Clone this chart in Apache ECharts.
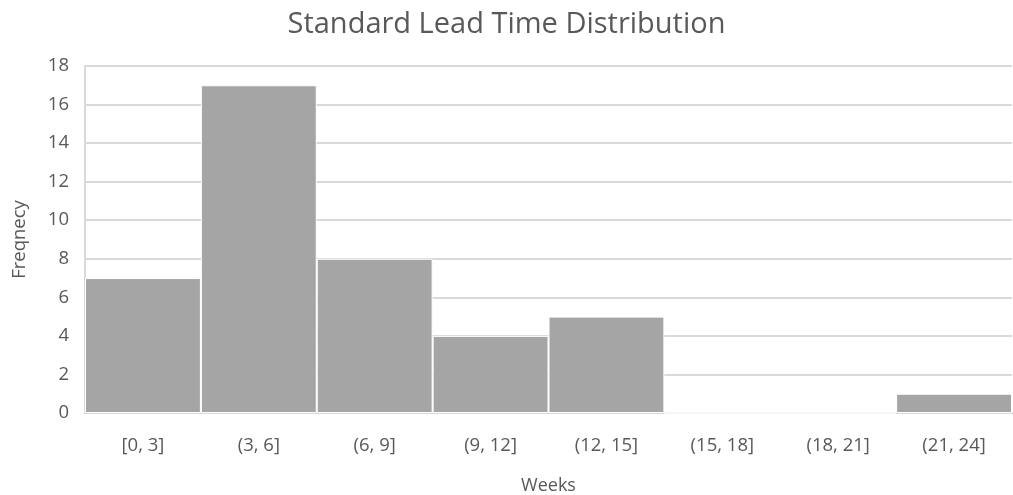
<!DOCTYPE html>
<html><head><meta charset="utf-8">
<script src="https://cdn.jsdelivr.net/npm/echarts@6/dist/echarts.min.js"></script>
<style>html,body{margin:0;padding:0;background:#fff}#c{width:1013px;height:495px}</style>
</head><body><div id="c"></div>
<script>
const categories = ['[0, 3]', '(3, 6]', '(6, 9]', '(9, 12]', '(12, 15]', '(15, 18]', '(18, 21]', '(21, 24]'];
const frequencies = [7, 17, 8, 4, 5, 0, 0, 1];
const chart = echarts.init(document.getElementById('c'));
const font = 'Open Sans';
chart.setOption({
  animation: false,
  title: { text: 'Standard Lead Time Distribution', left: 'center', top: 5,
    textStyle: { fontFamily: font, fontSize: 29, fontWeight: 'normal', color: '#595959' } },
  grid: { left: 85, right: 1, top: 66, bottom: 82, containLabel: false, outerBoundsMode: 'none' },
  xAxis: { type: 'category', data: categories, name: 'Weeks', nameLocation: 'middle', nameGap: 64,
    nameTextStyle: { fontFamily: font, fontSize: 18, color: '#595959' },
    axisLine: { show: true, lineStyle: { color: '#d9d9d9', width: 2 } }, axisTick: { show: false },
    axisLabel: { fontFamily: font, fontSize: 18.5, color: '#595959', margin: 23 } },
  yAxis: { type: 'value', min: 0, max: 18, interval: 2, name: 'Freqnecy', nameLocation: 'middle', nameGap: 56,
    nameTextStyle: { fontFamily: font, fontSize: 18.5, color: '#595959' },
    axisLine: { show: true, lineStyle: { color: '#d9d9d9', width: 2 } },
    splitLine: { lineStyle: { color: '#d9d9d9', width: 2 } },
    axisLabel: { fontFamily: font, fontSize: 18.5, color: '#595959', margin: 16 } },
  series: [{ type: 'bar', data: frequencies, barCategoryGap: '0%',
    itemStyle: { color: '#a5a5a5', borderColor: '#ffffff', borderWidth: 1 } }]
});
</script></body></html>
